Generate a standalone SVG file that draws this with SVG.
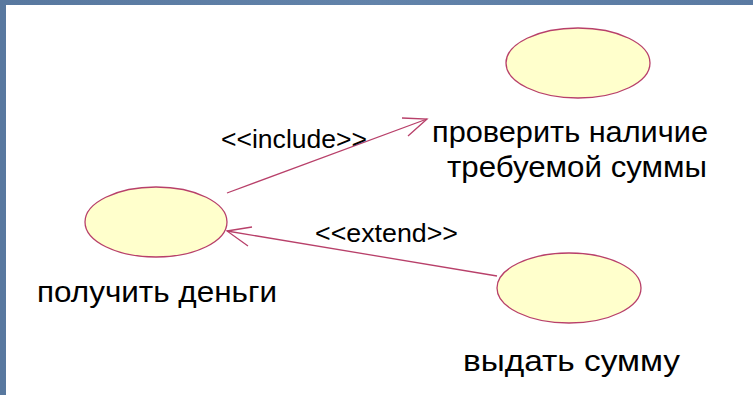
<svg xmlns="http://www.w3.org/2000/svg" width="753" height="395" viewBox="0 0 753 395">
<defs>
<linearGradient id="bg" x1="0" y1="0" x2="1" y2="0">
<stop offset="0" stop-color="#58789f"/>
<stop offset="0.5" stop-color="#6283aa"/>
<stop offset="1" stop-color="#5a7aa2"/>
</linearGradient>
</defs>
<style>
.uc{fill:#ffffcc;stroke:#b8406a;stroke-width:1.3}
.ln{fill:none;stroke:#b8406a;stroke-width:1.3}
.t{font-family:"Liberation Sans",Arial,sans-serif;fill:#000}
</style>
<rect x="0" y="0" width="753" height="395" fill="url(#bg)"/>
<rect x="6" y="5" width="747" height="390" fill="#ffffff"/>
<g id="connectors">
<g id="include">
<line class="ln" x1="227" y1="193" x2="427" y2="119"/>
<polyline class="ln" points="402,118 427,119 408,136"/>
<text class="t" x="221" y="148" font-size="25" textLength="146" lengthAdjust="spacingAndGlyphs">&lt;&lt;include&gt;&gt;</text>
</g>
<g id="extend">
<line class="ln" x1="497" y1="276" x2="227" y2="231"/>
<polyline class="ln" points="252,227 227,231 248,246"/>
<text class="t" x="315" y="242" font-size="25" textLength="143" lengthAdjust="spacingAndGlyphs">&lt;&lt;extend&gt;&gt;</text>
</g>
</g>
<g id="get-money">
<ellipse class="uc" cx="156" cy="222" rx="71" ry="35"/>
<text class="t" x="37" y="302" font-size="30" textLength="240" lengthAdjust="spacingAndGlyphs">получить деньги</text>
</g>
<g id="check-sum">
<ellipse class="uc" cx="578" cy="63" rx="72" ry="35"/>
<text class="t" x="432" y="142" font-size="30" textLength="276" lengthAdjust="spacingAndGlyphs">проверить наличие</text>
<text class="t" x="447" y="177" font-size="30" textLength="260" lengthAdjust="spacingAndGlyphs">требуемой суммы</text>
</g>
<g id="give-sum">
<ellipse class="uc" cx="569" cy="288" rx="72" ry="35"/>
<text class="t" x="463" y="371" font-size="30" textLength="217" lengthAdjust="spacingAndGlyphs">выдать сумму</text>
</g>
</svg>
